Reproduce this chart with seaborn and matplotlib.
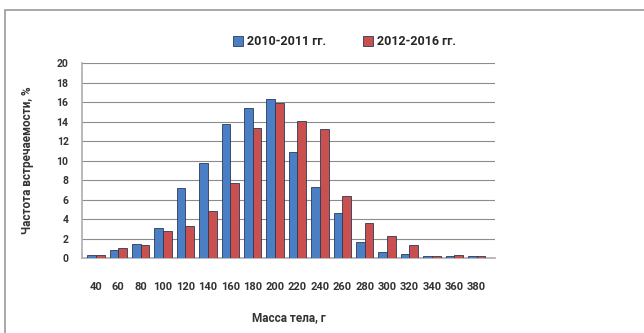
import matplotlib
matplotlib.use("Agg")
import matplotlib.pyplot as plt
import seaborn as sns
import pandas as pd
from matplotlib.patches import Rectangle

# Body-mass classes (g) and frequency of occurrence (%) for two periods
mass_classes = ["40", "60", "80", "100", "120", "140", "160", "180", "200", "220",
                "240", "260", "280", "300", "320", "340", "360", "380"]
freq_2010_2011 = [0.3, 0.8, 1.4, 3.1, 7.2, 9.8, 13.8, 15.4, 16.3, 10.9,
                  7.3, 4.6, 1.6, 0.6, 0.4, 0.2, 0.2, 0.2]
freq_2012_2016 = [0.3, 1.0, 1.3, 2.8, 3.3, 4.8, 7.7, 13.4, 15.9, 14.1,
                  13.3, 6.4, 3.6, 2.3, 1.3, 0.2, 0.3, 0.2]
series_names = ["2010-2011 гг.", "2012-2016 гг."]
y_ticks = list(range(0, 21, 2))

df = pd.DataFrame({
    "mass": mass_classes * 2,
    "freq": freq_2010_2011 + freq_2012_2016,
    "period": [series_names[0]] * len(mass_classes) + [series_names[1]] * len(mass_classes),
})

fonts = ["Roboto", "DejaVu Sans"]
sns.set_theme(style="white")
plt.rcParams["font.family"] = fonts
plt.rcParams["font.weight"] = "bold"
plt.rcParams["axes.labelweight"] = "bold"

fig = plt.figure(figsize=(6.44, 3.33), dpi=100)
ax = fig.add_axes([0.128, 0.225, 0.64, 0.585])

palette = {series_names[0]: "#4a7fc6", series_names[1]: "#c9504f"}
sns.barplot(data=df, x="mass", y="freq", hue="period", palette=palette,
            width=0.78, gap=0.0, edgecolor="#2c3a55", linewidth=0.6,
            saturation=1, ax=ax, zorder=3)

ax.set_ylim(0, 20)
ax.set_yticks(y_ticks)
ax.set_yticklabels([str(t) for t in y_ticks], fontsize=7.5, fontweight="bold", color="#333333")
ax.set_xticks(range(len(mass_classes)))
ax.set_xticklabels(mass_classes, fontsize=8, fontweight="bold", color="#333333")
ax.tick_params(axis="x", pad=17, length=0)
ax.tick_params(axis="y", pad=10, length=0)

ax.yaxis.grid(True, color="#8c8c8c", linewidth=0.8)
ax.set_axisbelow(True)
for side in ["top", "right"]:
    ax.spines[side].set_visible(False)
ax.spines["left"].set_color("#b0b0b0")
ax.spines["bottom"].set_color("#b0b0b0")
ax.set_xlim(-0.6, len(mass_classes) - 0.2)

ax.set_xlabel("Масса тела, г", fontsize=8.5, fontweight="bold", color="#333333", labelpad=14)
ax.set_ylabel("Частота встречаемости, %", fontsize=8.5, fontweight="bold", color="#333333", labelpad=16)

handles, labels = ax.get_legend_handles_labels()
ax.get_legend().remove()
fig.legend(handles, labels, loc="center", bbox_to_anchor=(0.535, 0.875), ncol=2,
           frameon=False, handlelength=0.8, handleheight=0.8,
           columnspacing=3.0, handletextpad=0.3,
           prop={"weight": "bold", "size": 9, "family": fonts})

# outer chart frame
fig.add_artist(Rectangle((5 / 644, -0.05), 1.0, 1 - 10 / 333 + 0.05,
                         transform=fig.transFigure, fill=False,
                         edgecolor="#9a9a9a", linewidth=1.2))

fig.savefig("out.png", dpi=100)
